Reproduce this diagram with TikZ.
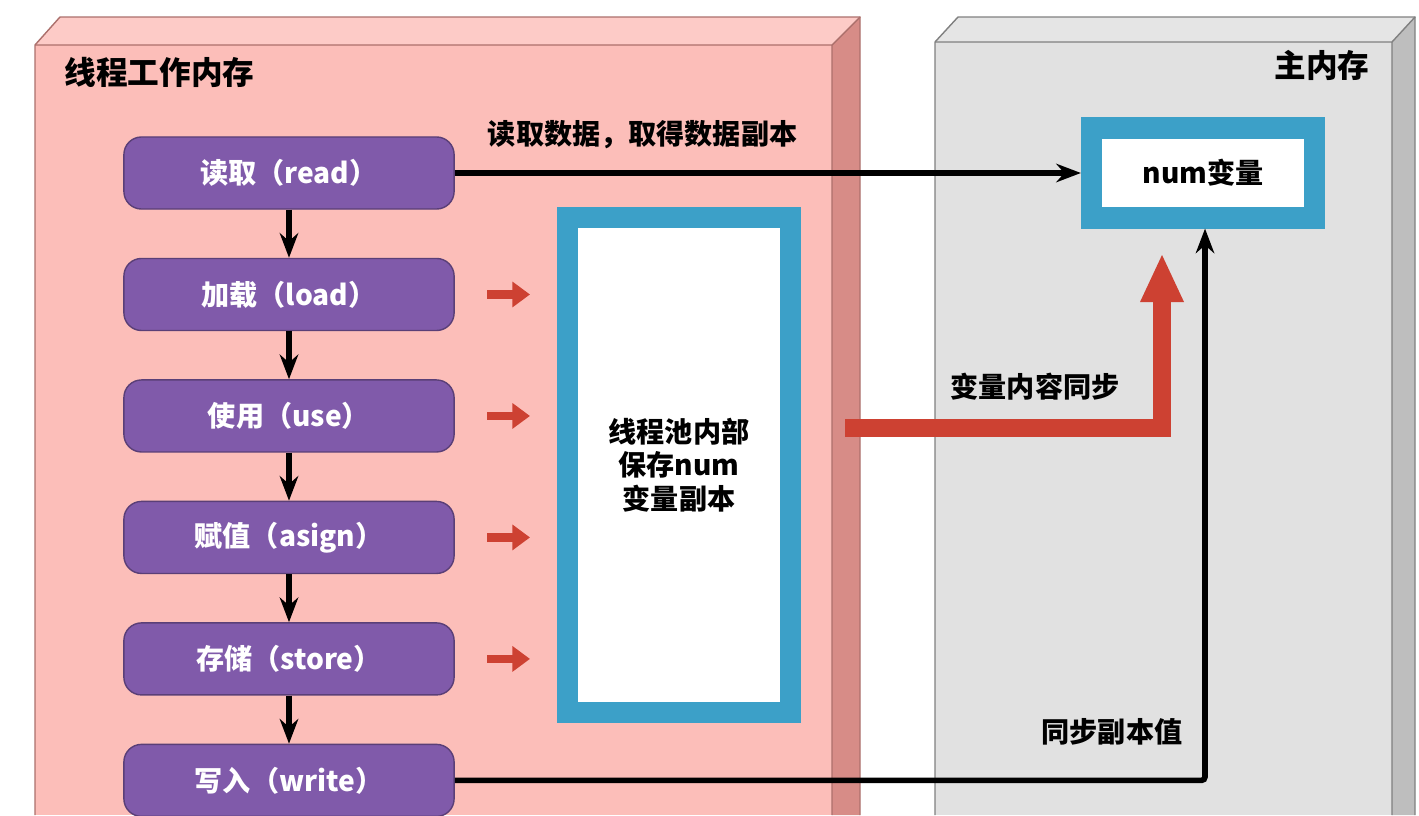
\documentclass[tikz,border=0pt]{standalone}
\usepackage{fontspec}
\setmainfont{Noto Sans CJK SC}
\usetikzlibrary{positioning,arrows.meta}
\definecolor{pinkfront}{RGB}{252,190,185}
\definecolor{pinkside}{RGB}{215,140,135}
\definecolor{grayfront}{RGB}{225,225,225}
\definecolor{grayside}{RGB}{190,190,190}
\definecolor{stagefill}{RGB}{128,90,170}
\definecolor{frameblue}{RGB}{60,160,200}
\definecolor{syncred}{RGB}{205,65,50}
\tikzset{
  stage/.style={draw=stagefill!70!black,fill=stagefill,rounded corners=5pt,minimum width=3.3cm,minimum height=0.72cm,text=white,font=\bfseries\footnotesize},
  flow/.style={-{Stealth[length=7pt]},line width=1.6pt},
  hint/.style={-{Triangle[length=5pt,width=7pt]},line width=2.5pt,color=syncred},
  tag/.style={font=\bfseries\footnotesize}
}
\begin{document}
\begin{tikzpicture}[x=0.01cm,y=-0.01cm]
\useasboundingbox (0,0) rectangle (1419,815);
\fill[white] (0,0) rectangle (1419,815);
% thread working memory block
\fill[pinkside] (832,45) -- (860,17) -- (860,815) -- (832,815) -- cycle;
\fill[pinkfront!80!white] (35,45) -- (60,17) -- (860,17) -- (832,45) -- cycle;
\fill[pinkfront] (35,45) rectangle (832,815);
\draw[pinkside!80!black,thin] (35,815) -- (35,45) -- (60,17) -- (860,17) -- (860,815);
\draw[pinkside!80!black,thin] (35,45) -- (832,45) -- (860,17) (832,45) -- (832,815);
% main memory block
\fill[grayside] (1392,42) -- (1415,17) -- (1415,815) -- (1392,815) -- cycle;
\fill[grayfront!85!white] (935,42) -- (958,17) -- (1415,17) -- (1392,42) -- cycle;
\fill[grayfront] (935,42) rectangle (1392,815);
\draw[gray,thin] (935,815) -- (935,42) -- (958,17) -- (1415,17) -- (1415,815);
\draw[gray,thin] (935,42) -- (1392,42) -- (1415,17) (1392,42) -- (1392,815);
\node[tag,font=\bfseries\small,anchor=west] (workmem) at (52,72) {线程工作内存};
\node[tag,font=\bfseries\small,anchor=east] (mainmem) at (1382,65) {主内存};
% stages
\node[stage] (read) at (289,173) {读取（read）};
\node[stage,below=0.48cm of read] (load) {加载（load）};
\node[stage,below=0.48cm of load] (use) {使用（use）};
\node[stage,below=0.48cm of use] (assign) {赋值（asign）};
\node[stage,below=0.48cm of assign] (store) {存储（store）};
\node[stage,below=0.48cm of store] (write) {写入（write）};
\foreach \a/\b in {read/load,load/use,use/assign,assign/store,store/write}
  \draw[flow] (\a) -- (\b);
% copy inside thread
\node[draw=frameblue,line width=6pt,fill=white,minimum width=2.22cm,minimum height=4.94cm,align=center,font=\bfseries\footnotesize,outer sep=3pt] (copy) at (679,465) {线程池内部\\保存num\\变量副本};
\foreach \s in {load,use,assign,store}
  \draw[hint] (487,0 |- \s) -- (530,0 |- \s);
% variable in main memory
\node[draw=frameblue,line width=6pt,fill=white,minimum width=2.23cm,minimum height=0.9cm,font=\bfseries\footnotesize,outer sep=3pt] (num) at (1203,173) {num变量};
\draw[flow] (read) -- node[tag,above=0.1cm,pos=0.3] {读取数据，取得数据副本} (num);
% synchronisation
\coordinate (syncstart) at (845,428);
\coordinate (syncturn) at (1162,428);
\coordinate (synctip) at (1162,255);
\draw[syncred,line width=5pt] (syncstart) -- (syncturn) -- (1162,300);
\fill[syncred] (1140,302) -- (1184,302) -- (synctip) -- cycle;
\node[tag] (synclabel) at (1035,387) {变量内容同步};
\coordinate (writeturn) at (1205,0 |- write);
\draw[flow,rounded corners=1pt] (write) -- (writeturn) -- (1205,0 |- num.south);
\node[tag] (writelabel) at (1112,732) {同步副本值};
\end{tikzpicture}
\end{document}
